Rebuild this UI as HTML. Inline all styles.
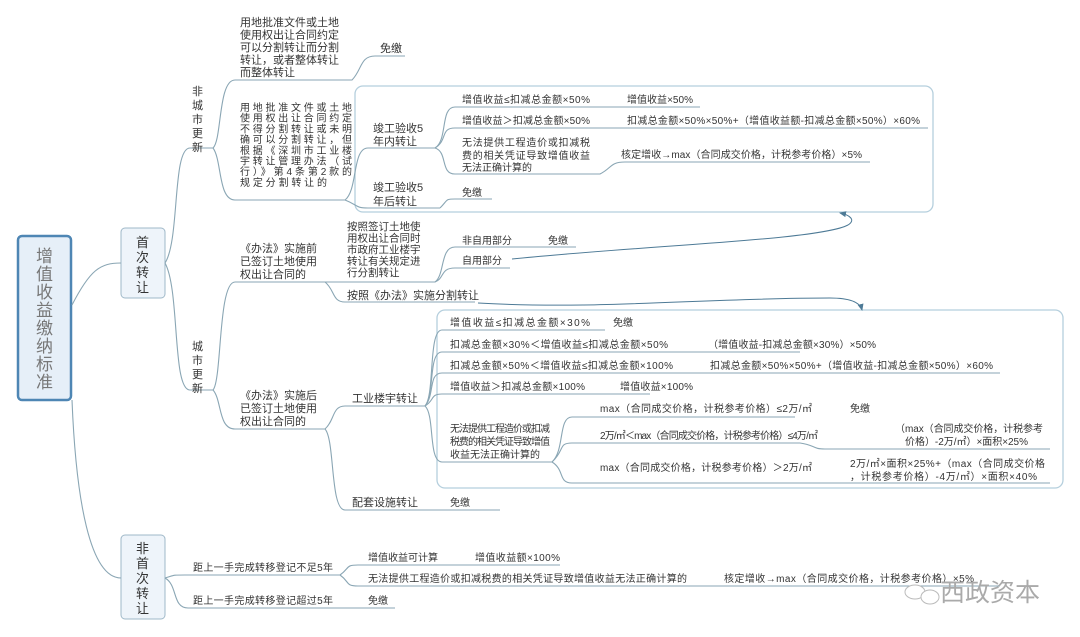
<!DOCTYPE html>
<html><head><meta charset="utf-8"><style>
html,body{margin:0;padding:0;background:#fff;}
svg{display:block;}
text{font-family:"Liberation Sans","Noto Sans CJK SC",sans-serif;fill:#333;font-size:10px;}
.m{font-size:11px;}
.s{font-size:10px;}
.l{fill:none;stroke:#8aa6b4;stroke-width:1.1;}
</style></head><body>
<svg width="1080" height="637" viewBox="0 0 1080 637" xmlns="http://www.w3.org/2000/svg">
<defs><marker id="ar" markerWidth="8" markerHeight="8" refX="6" refY="4" orient="auto"><path d="M0,1 L7,4 L0,7 Z" fill="#4d7a96"/></marker></defs>

<rect x="355" y="86" width="578" height="126" rx="8" fill="none" stroke="#b5cfdd" stroke-width="1.3"/>
<rect x="437" y="310" width="626" height="178" rx="8" fill="none" stroke="#b5cfdd" stroke-width="1.3"/>

<rect x="18" y="236" width="53" height="164" rx="4" fill="#e6eff8" stroke="#4e86b4" stroke-width="2.5"/>
<text x="36" y="262" style="font-size:17px;fill:#777">增</text>
<text x="36" y="280" style="font-size:17px;fill:#777">值</text>
<text x="36" y="298" style="font-size:17px;fill:#777">收</text>
<text x="36" y="316" style="font-size:17px;fill:#777">益</text>
<text x="36" y="334" style="font-size:17px;fill:#777">缴</text>
<text x="36" y="352" style="font-size:17px;fill:#777">纳</text>
<text x="36" y="370" style="font-size:17px;fill:#777">标</text>
<text x="36" y="388" style="font-size:17px;fill:#777">准</text>

<rect x="121" y="228" width="44" height="70" rx="4" fill="#eef4fa" stroke="#9fb8c8" stroke-width="1"/>
<text x="136" y="247" style="font-size:13px">首</text>
<text x="136" y="262" style="font-size:13px">次</text>
<text x="136" y="277" style="font-size:13px">转</text>
<text x="136" y="292" style="font-size:13px">让</text>
<rect x="121" y="535" width="44" height="84" rx="4" fill="#eef4fa" stroke="#9fb8c8" stroke-width="1"/>
<text x="136" y="553" style="font-size:13px">非</text>
<text x="136" y="568" style="font-size:13px">首</text>
<text x="136" y="583" style="font-size:13px">次</text>
<text x="136" y="598" style="font-size:13px">转</text>
<text x="136" y="613" style="font-size:13px">让</text>

<path class="l" d="M72,305 C90,270 100,263 121,263"/>
<path class="l" d="M72,400 C76,500 90,578 121,578"/>

<path class="l" d="M165,263 C180,240 172,148 190,148 L213,148"/>
<text x="192" y="95" class="m">非</text><text x="192" y="109" class="m">城</text><text x="192" y="123" class="m">市</text><text x="192" y="137" class="m">更</text><text x="192" y="151" class="m">新</text>
<path class="l" d="M213,148 C222,140 218,80 235,80 L352,80 C362,70 360,56 375,56 L405,56"/>
<path class="l" d="M213,148 C222,160 218,200 235,200 L345,200"/>
<text x="240" y="26" class="m">用地批准文件或土地</text>
<text x="240" y="38.5" class="m">使用权出让合同约定</text>
<text x="240" y="51" class="m">可以分割转让而分割</text>
<text x="240" y="63.5" class="m">转让，或者整体转让</text>
<text x="240" y="76" class="m">而整体转让</text>
<text x="380" y="52" class="m">免缴</text>
<text x="240" y="111" class="s" textLength="112">用地批准文件或土地</text>
<text x="240" y="121.7" class="s" textLength="112">使用权出让合同约定</text>
<text x="240" y="132.4" class="s" textLength="112">不得分割转让或未明</text>
<text x="240" y="143.1" class="s" textLength="112">确可以分割转让，但</text>
<text x="240" y="153.8" class="s" textLength="112">根据《深圳市工业楼</text>
<text x="240" y="164.5" class="s" textLength="112">宇转让管理办法（试</text>
<text x="240" y="175.2" class="s" textLength="112">行）》第4条第2款的</text>
<text x="240" y="186" class="s" textLength="87">规定分割转让的</text>
<path class="l" d="M345,200 C358,190 352,148 368,148 L435,148"/>
<path class="l" d="M345,200 C358,205 355,208 368,208 L440,208"/>
<text x="373" y="132" class="m">竣工验收5</text>
<text x="373" y="145" class="m">年内转让</text>
<text x="373" y="191" class="m">竣工验收5</text>
<text x="373" y="205" class="m">年后转让</text>
<path class="l" d="M435,148 C448,140 440,107 455,107 L700,107"/>
<path class="l" d="M435,148 C448,140 440,128 455,128 L928,128"/>
<path class="l" d="M435,148 C448,152 440,174 455,174 L600,174 C612,168 610,162 625,162 L870,162"/>
<path class="l" d="M440,208 C448,200 445,199 455,199 L492,199"/>
<text x="462" y="103" textLength="128">增值收益≤扣减总金额×50%</text>
<text x="627" y="103" textLength="66">增值收益×50%</text>
<text x="462" y="124" textLength="128">增值收益＞扣减总金额×50%</text>
<text x="627" y="124" textLength="293">扣减总金额×50%×50%+（增值收益额-扣减总金额×50%）×60%</text>
<text x="462" y="146" textLength="128">无法提供工程造价或扣减税</text>
<text x="462" y="159" textLength="128">费的相关凭证导致增值收益</text>
<text x="462" y="171">无法正确计算的</text>
<text x="621" y="158" textLength="241">核定增收→max（合同成交价格，计税参考价格）×5%</text>
<text x="462" y="196">免缴</text>

<path class="l" d="M165,263 C180,290 172,390 190,390 L213,390"/>
<text x="192" y="350" class="m">城</text><text x="192" y="364" class="m">市</text><text x="192" y="378" class="m">更</text><text x="192" y="392" class="m">新</text>
<path class="l" d="M213,390 C222,380 218,282 235,282 L325,282"/>
<path class="l" d="M213,390 C222,400 218,429 235,429 L325,429"/>
<text x="240" y="252" class="m">《办法》实施前</text>
<text x="240" y="265" class="m">已签订土地使用</text>
<text x="240" y="278" class="m">权出让合同的</text>
<text x="347" y="230" style="font-size:10.5px">按照签订土地使</text>
<text x="347" y="241.5" style="font-size:10.5px">用权出让合同时</text>
<text x="347" y="253" style="font-size:10.5px">市政府工业楼宇</text>
<text x="347" y="264.5" style="font-size:10.5px">转让有关规定进</text>
<text x="347" y="276" style="font-size:10.5px">行分割转让</text>
<path class="l" d="M325,282 L435,282"/>
<path class="l" d="M325,282 C335,290 332,302 345,302 L475,302"/>
<path class="l" d="M435,282 C445,275 440,247 455,247 L576,247"/>
<path class="l" d="M435,282 C445,278 440,268 455,268 L510,268"/>
<text x="462" y="244">非自用部分</text>
<text x="548" y="244">免缴</text>
<text x="462" y="264">自用部分</text>
<text x="347" y="299" class="m">按照《办法》实施分割转让</text>
<path d="M512,259 C650,245 820,240 848,225 C856,220 850,215 840,213" fill="none" stroke="#4d7a96" stroke-width="1" marker-end="url(#ar)"/>
<path d="M478,303 C600,310 700,298 830,298 C850,298 860,302 862,310" fill="none" stroke="#4d7a96" stroke-width="1" marker-end="url(#ar)"/>

<text x="240" y="399" class="m">《办法》实施后</text>
<text x="240" y="412" class="m">已签订土地使用</text>
<text x="240" y="425" class="m">权出让合同的</text>
<path class="l" d="M325,429 C335,420 332,406 345,406 L425,406"/>
<path class="l" d="M325,429 C335,440 330,510 345,510 L500,510"/>
<text x="352" y="402" class="m">工业楼宇转让</text>
<text x="352" y="506" class="m">配套设施转让</text>
<text x="450" y="506">免缴</text>

<path class="l" d="M425,406 C435,395 428,330 442,330 L605,330"/>
<path class="l" d="M425,406 C435,395 428,352 442,352 L800,352"/>
<path class="l" d="M425,406 C435,395 428,373 442,373 L1000,373"/>
<path class="l" d="M425,406 C435,400 430,394 442,394 L650,394"/>
<path class="l" d="M425,406 C435,415 428,462 442,462 L552,462"/>
<path class="l" d="M552,462 C565,450 558,417 572,417 L795,417"/>
<path class="l" d="M552,462 C565,450 558,443 572,443 L800,443 C815,445 812,449 825,449 L1050,449"/>
<path class="l" d="M552,462 C565,470 558,483 572,483 L1050,483"/>
<text x="450" y="326" textLength="140">增值收益≤扣减总金额×30%</text>
<text x="613" y="326">免缴</text>
<text x="450" y="348" textLength="218">扣减总金额×30%＜增值收益≤扣减总金额×50%</text>
<text x="708" y="348" textLength="168">（增值收益-扣减总金额×30%）×50%</text>
<text x="450" y="369" textLength="223">扣减总金额×50%＜增值收益≤扣减总金额×100%</text>
<text x="710" y="369" textLength="283">扣减总金额×50%×50%+（增值收益-扣减总金额×50%）×60%</text>
<text x="450" y="390" textLength="135">增值收益＞扣减总金额×100%</text>
<text x="620" y="390" textLength="73">增值收益×100%</text>
<text x="450" y="432" textLength="100">无法提供工程造价或扣减</text>
<text x="450" y="445" textLength="100">税费的相关凭证导致增值</text>
<text x="450" y="458">收益无法正确计算的</text>
<text x="600" y="412" textLength="212">max（合同成交价格，计税参考价格）≤2万/㎡</text>
<text x="850" y="412">免缴</text>
<text x="600" y="439" textLength="218">2万/㎡＜max（合同成交价格，计税参考价格）≤4万/㎡</text>
<text x="895" y="432" textLength="148">（max（合同成交价格，计税参考</text>
<text x="905" y="445" textLength="123">价格）-2万/㎡）×面积×25%</text>
<text x="600" y="471" textLength="212">max（合同成交价格，计税参考价格）＞2万/㎡</text>
<text x="850" y="467" textLength="195">2万/㎡×面积×25%+（max（合同成交价格</text>
<text x="850" y="480" textLength="187">，计税参考价格）-4万/㎡）×面积×40%</text>

<path class="l" d="M165,578 C175,575 172,575 185,575 L340,575"/>
<path class="l" d="M165,578 C178,585 172,608 188,608 L340,608"/>
<path class="l" d="M340,575 C350,568 345,565 358,565 L560,565"/>
<path class="l" d="M340,575 C350,582 345,586 358,586 L1000,586"/>
<path class="l" d="M340,608 L395,608"/>
<text x="193" y="571" textLength="140">距上一手完成转移登记不足5年</text>
<text x="193" y="604" textLength="140">距上一手完成转移登记超过5年</text>
<text x="368" y="561" textLength="70">增值收益可计算</text>
<text x="475" y="561" textLength="85">增值收益额×100%</text>
<text x="368" y="582" textLength="319">无法提供工程造价或扣减税费的相关凭证导致增值收益无法正确计算的</text>
<text x="724" y="582" textLength="250">核定增收→max（合同成交价格，计税参考价格）×5%</text>
<text x="368" y="604">免缴</text>

<ellipse cx="915" cy="592" rx="10" ry="7" fill="#fff" stroke="#bbb" stroke-width="1"/>
<ellipse cx="930" cy="597" rx="9" ry="7" fill="#fff" stroke="#bbb" stroke-width="1"/>
<text x="940" y="601" style="font-size:25px;fill:#aaa;">西政资本</text>
</svg>
</body></html>
